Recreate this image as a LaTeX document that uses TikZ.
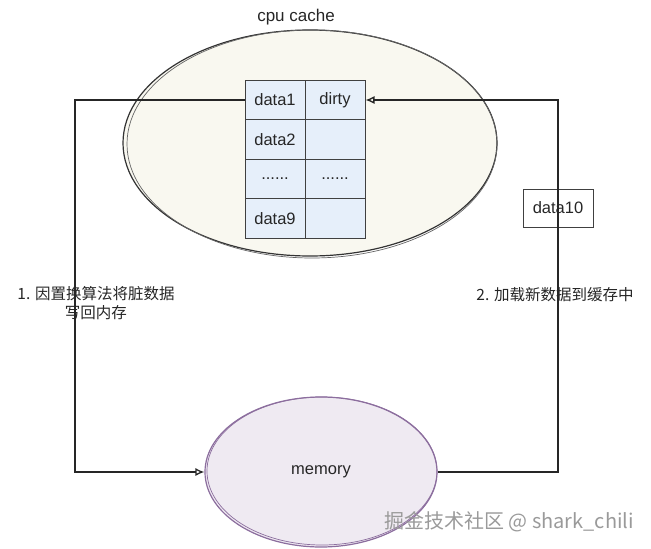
\documentclass[tikz,border=0pt]{standalone}
\usepackage{fontspec}
\setmainfont{Liberation Sans}
\newfontfamily\cjk{Noto Sans CJK SC}
\usetikzlibrary{shapes.geometric,arrows.meta}
\definecolor{cacheFill}{HTML}{F9F8F0}
\definecolor{cellFill}{HTML}{E6EFFA}
\definecolor{memFill}{HTML}{EFEAF2}
\definecolor{memLine}{HTML}{8C6E9E}
\definecolor{wm}{HTML}{9A9A9A}
\tikzset{
  cell/.style={draw=black!75, line width=1pt, fill=cellFill, minimum width=60pt, minimum height=39.5pt, inner sep=0pt, font=\fontsize{16.5}{19}\selectfont, text=black!85},
  arr/.style={draw=black!85, line width=1.3pt, -{Latex[open,length=9pt,width=8pt]}},
  lbl/.style={font=\cjk\fontsize{15.5}{18.5}\selectfont, align=center, text=black!85},
}
\begin{document}
\begin{tikzpicture}[x=1pt,y=-1pt]
\useasboundingbox (0,0) rectangle (651,549);
% cpu cache
\node[ellipse, draw=black!80, line width=1.2pt, fill=cacheFill, minimum width=374pt, minimum height=226pt] (cache) at (310,143) {};
\draw[black!60, line width=0.7pt] (312,144) ellipse [x radius=185pt, y radius=114pt];
\node[font=\fontsize{17}{20}\selectfont, text=black!85] (title) at (296,17) {cpu cache};
% table
\node[cell] (c11) at (275,100) {data1};
\node[cell] (c12) at (335,100) {dirty};
\node[cell] (c21) at (275,139.5) {data2};
\node[cell] (c22) at (335,139.5) {};
\node[cell] (c31) at (275,179) {......};
\node[cell] (c32) at (335,179) {......};
\node[cell] (c41) at (275,218.5) {data9};
\node[cell] (c42) at (335,218.5) {};
% memory
\node[ellipse, draw=memLine, line width=1.2pt, fill=memFill, minimum width=232pt, minimum height=150pt] (mem) at (321,472) {};
\draw[memLine, line width=0.7pt] (322,471) ellipse [x radius=115pt, y radius=74pt];
\node[font=\fontsize{16.5}{19}\selectfont, text=black!85] at (mem.center) {memory};
% data10
\node[draw=black!75, line width=1pt, minimum width=70pt, minimum height=38pt, inner sep=0pt, font=\fontsize{16.5}{19}\selectfont, text=black!85] (d10) at (558,208) {data10};
% connectors
\coordinate (l1) at (75,100);
\coordinate (l2) at (75,472);
\coordinate (r1) at (558,472);
\coordinate (r2) at (558,100);
\draw[arr] (c11.west) -- (l1) -- (l2) -- (mem.west);
\draw[arr] (mem.east) -- (r1) -- (r2) -- (c12.east);
% labels
\node[lbl] (lab1) at (96,303) {1. 因置换算法将脏数据\\写回内存};
\node[lbl] (lab2) at (555,295) {2. 加载新数据到缓存中};
% watermark
\node[font=\cjk\fontsize{20}{24}\selectfont, text=wm] (wmk) at (509,522) {掘金技术社区 @ shark\_chili};
\end{tikzpicture}
\end{document}
